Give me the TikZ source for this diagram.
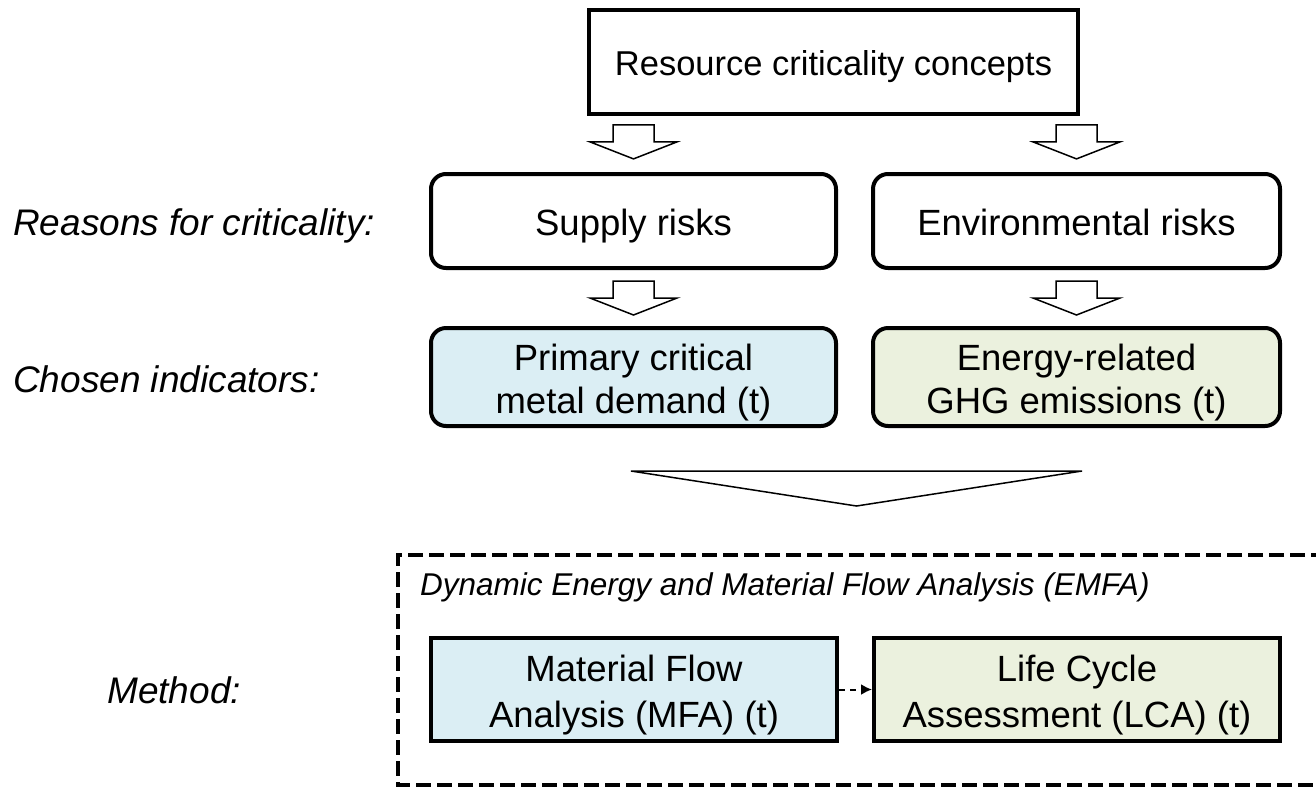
\documentclass[tikz,border=0pt]{standalone}
\usepackage{fontspec}
\setmainfont{Liberation Sans}
\usetikzlibrary{arrows.meta,calc}
\definecolor{bluefill}{RGB}{219,238,244}
\definecolor{greenfill}{RGB}{235,241,222}
% lower the content of a node by half of #1
\newcommand\txtdown[2]{\raisebox{0pt}[\dimexpr\height+#1\relax][\depth]{\begin{tabular}{@{}c@{}}#2\end{tabular}}}
\begin{document}
\begin{tikzpicture}[x=1pt,y=-1pt,
  box/.style={draw, line width=4pt, align=center, inner sep=0pt, text=black,
    font=\fontsize{36.5}{43}\selectfont},
  roundbox/.style={box, rounded corners=15pt},
  sidelabel/.style={anchor=base west, inner sep=0pt, font=\fontsize{37}{43}\selectfont\itshape},
  pics/blockdown/.style={code={
    \draw[line width=1.5pt, fill=white, line join=miter]
      (-20.5,-17) -- (20.5,-17) -- (20.5,0) -- (43.5,0) -- (0,17) -- (-43.5,0) -- (-20.5,0) -- cycle;}},
  frame/.style={line width=4pt, dash pattern=on 15pt off 6pt},
  thinline/.style={line width=1.5pt}]
\useasboundingbox (0,0) rectangle (1316,788);

% boxes
\node[box, line width=4.5pt, font=\fontsize{34.5}{43}\selectfont, minimum width=489pt, minimum height=104pt] (top) at (833.5,62) {\txtdown{10pt}{Resource criticality concepts}};
\node[roundbox, minimum width=405pt, minimum height=94pt] (sup) at (633.5,221) {\txtdown{12pt}{Supply risks}};
\node[roundbox, minimum width=407pt, minimum height=94pt] (env) at (1076.5,221) {\txtdown{12pt}{Environmental risks}};
\node[roundbox, fill=bluefill, minimum width=405pt, minimum height=92pt] (ind1) at (633.5,377) {\txtdown{12pt}{Primary critical\\metal demand (t)}};
\node[roundbox, fill=greenfill, minimum width=407pt, minimum height=92pt] (ind2) at (1076.5,377) {\txtdown{12pt}{Energy-related\\GHG emissions (t)}};
\node[box, fill=bluefill, font=\fontsize{36.5}{46}\selectfont, minimum width=406pt, minimum height=103pt] (mfa) at (634,689.5) {\txtdown{11pt}{Material Flow\\Analysis (MFA) (t)}};
\node[box, fill=greenfill, font=\fontsize{36.5}{46}\selectfont, minimum width=406pt, minimum height=103pt] (lca) at (1077,689.5) {\txtdown{11pt}{Life Cycle\\Assessment (LCA) (t)}};

% side labels
\node[sidelabel] (lreasons) at (13,235) {Reasons for criticality:};
\node[sidelabel] (lchosen) at (13,392) {Chosen indicators:};
\node[sidelabel] (lmethod) at (107,703) {Method:};

% hollow block arrows
\pic at ($(sup.north |- top.south)!0.46!(sup.north)$) {blockdown};
\pic at ($(env.north |- top.south)!0.46!(env.north)$) {blockdown};
\pic at ($(sup.south)!0.5!(ind1.north)$) {blockdown};
\pic at ($(env.south)!0.5!(ind2.north)$) {blockdown};

% big triangle
\coordinate (tri) at ($(ind1.south)!0.5!(ind2.south)$);
\coordinate (trileft) at ($(tri)+(-224,43)$);
\coordinate (triright) at ($(tri)+(227,43)$);
\coordinate (tritip) at ($(tri)+(1.5,78)$);
\draw[thinline, line join=miter] (trileft) -- (triright) -- (tritip) -- cycle;

% dashed frame (open on the right, beyond the picture edge)
\coordinate (frtr) at (1326,555);
\coordinate (frtl) at (398,555);
\coordinate (frbl) at (398,785);
\coordinate (frbr) at (1326,785);
\draw[frame] (frtr) -- (frtl) -- (frbl) -- (frbr);
\node[anchor=base west, inner sep=0pt, font=\fontsize{31.5}{36}\selectfont\itshape] (emfa) at (420,595) {Dynamic Energy and Material Flow Analysis (EMFA)};

% dashed connector
\draw[line width=2pt, dash pattern=on 6pt off 5pt, -{Latex[length=11pt,width=11pt]}] (mfa.east) -- (lca.west);
\end{tikzpicture}
\end{document}
